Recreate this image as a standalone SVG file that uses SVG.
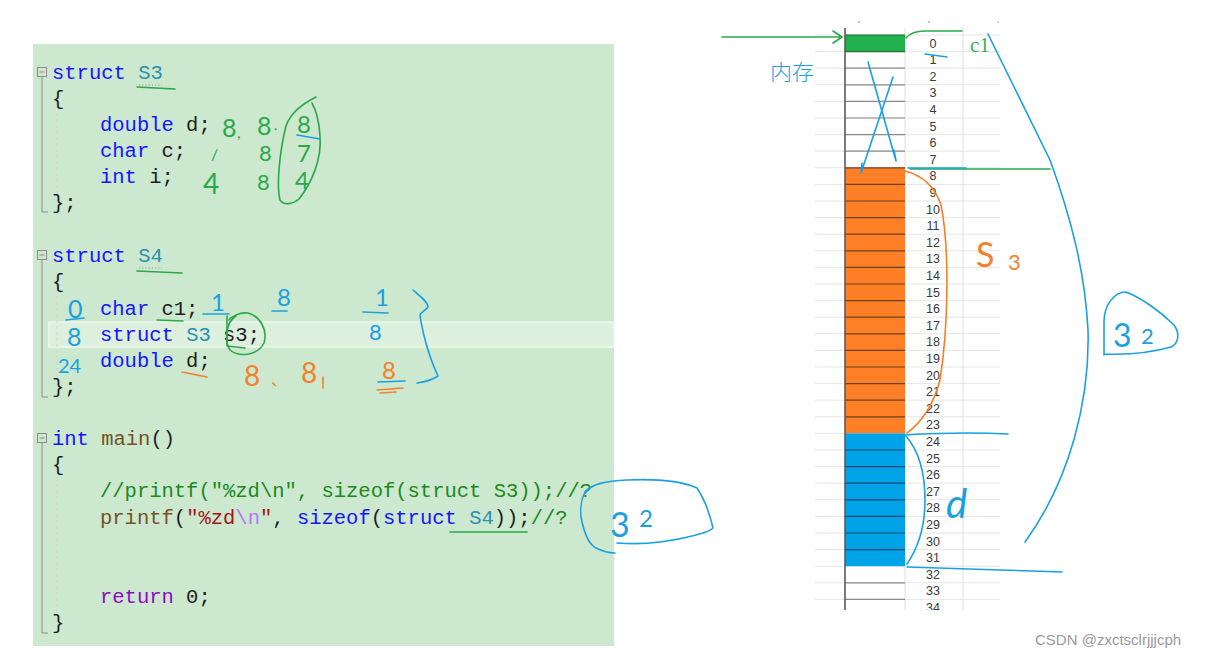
<svg xmlns="http://www.w3.org/2000/svg" width="1229" height="660" viewBox="0 0 1229 660">
<defs>
<style>
.code{font-family:"Liberation Mono","DejaVu Sans Mono",monospace;font-size:20.5px;fill:#1e1e1e}
.kw{fill:#1515ff}
.ty{fill:#2b91af}
.fn{fill:#74531f}
.str{fill:#a31515}
.esc{fill:#b776fb}
.cm{fill:#1b8a1b}
.ret{fill:#8f08c4}
.fold{fill:none;stroke:#8c8c8c;stroke-width:1}
.guide{stroke:#d9cdd3;stroke-width:1;stroke-dasharray:3,3}
.hw{fill:none;stroke-width:1.6;stroke-linecap:round;stroke-linejoin:round}
.g{stroke:#2aa84a}
.b{stroke:#1aa0e2}
.o{stroke:#f5802a}
.hg{fill:#2aa84a}
.hb{fill:#1aa0e2}
.ho{fill:#f5802a}
.hand{font-family:Lato,"Liberation Sans","DejaVu Sans",sans-serif;font-weight:400}
.num{font-family:"Liberation Sans",Arial,sans-serif;font-size:12.5px;fill:#3a3a3a;text-anchor:middle}
.grid{stroke:#e6e6e6;stroke-width:1}
</style>
<clipPath id="tbl"><rect x="800" y="20" width="220" height="590"/></clipPath>
</defs>
<rect width="1229" height="660" fill="#ffffff"/>

<g id="code-panel">
<rect x="33" y="44" width="581" height="602" fill="#cce8cf"/>
<rect x="49" y="322" width="565" height="25" fill="#ddefdd" stroke="#eef8ee" stroke-width="1.5"/>
<rect class="fold" x="37.5" y="67.5" width="9" height="9"/><path d="M39.5,72 H44.5" stroke="#8c8c8c"/>
<path class="fold" d="M42,77 V212 H48"/>
<rect class="fold" x="37.5" y="250.5" width="9" height="9"/><path d="M39.5,255 H44.5" stroke="#8c8c8c"/>
<path class="fold" d="M42,260 V397 H48"/>
<rect class="fold" x="37.5" y="433.5" width="9" height="9"/><path d="M39.5,438 H44.5" stroke="#8c8c8c"/>
<path class="fold" d="M42,443 V633 H48"/>
<path class="guide" d="M57,113 V197 M57,296 V380 M57,478 V615"/>
<path d="M139,85 H162 M139,268 H162" stroke="#9a9a9a" stroke-width="1.2" stroke-dasharray="1.2,2"/>
<text class="code" x="52" y="79"><tspan class="kw">struct</tspan> <tspan class="ty">S3</tspan></text>
<text class="code" x="52" y="105">{</text>
<text class="code" x="100" y="131"><tspan class="kw">double</tspan> d;</text>
<text class="code" x="100" y="157"><tspan class="kw">char</tspan> c;</text>
<text class="code" x="100" y="183"><tspan class="kw">int</tspan> i;</text>
<text class="code" x="52" y="209">};</text>
<text class="code" x="52" y="262"><tspan class="kw">struct</tspan> <tspan class="ty">S4</tspan></text>
<text class="code" x="52" y="288">{</text>
<text class="code" x="100" y="315"><tspan class="kw">char</tspan> c1;</text>
<text class="code" x="100" y="341"><tspan class="kw">struct</tspan> <tspan class="ty">S3</tspan> s3;</text>
<text class="code" x="100" y="367"><tspan class="kw">double</tspan> d;</text>
<text class="code" x="52" y="393">};</text>
<text class="code" x="52" y="445"><tspan class="kw">int</tspan> <tspan class="fn">main</tspan>()</text>
<text class="code" x="52" y="471">{</text>
<text class="code cm" x="100" y="497">//printf("%zd\n", sizeof(struct S3));//?</text>
<text class="code" x="100" y="524"><tspan class="fn">printf</tspan>(<tspan class="str">"%zd</tspan><tspan class="esc">\n</tspan><tspan class="str">"</tspan>, <tspan class="kw">sizeof</tspan>(<tspan class="kw">struct</tspan> <tspan class="ty">S4</tspan>));<tspan class="cm">//?</tspan></text>
<text class="code" x="100" y="603"><tspan class="ret">return</tspan> 0;</text>
<text class="code" x="52" y="629">}</text>
</g>

<g id="s3-notes">
<path class="hw g" d="M137,87 L175,89"/>
<text class="hand hg" x="222" y="137" font-size="25">8</text>
<text class="hand hg" x="237" y="138" font-size="16">,</text>
<text class="hand hg" x="257" y="135" font-size="25">8</text>
<text class="hand hg" x="274" y="130" font-size="14">.</text>
<text class="hand hg" x="297" y="133" font-size="24">8</text>
<path class="hw b" d="M297,135 L320,139"/>
<text class="hand hg" x="211" y="160" font-size="16">/</text>
<text class="hand hg" x="259" y="161" font-size="22">8</text>
<text class="hand hg" x="297" y="162" font-size="24">7</text>
<text class="hand hg" x="203" y="194" font-size="28">4</text>
<text class="hand hg" x="257" y="190" font-size="22">8</text>
<text class="hand hg" x="295" y="189" font-size="24">4</text>
<path class="hw g" d="M316,97 C302,104 290,114 286,126 C280,150 276,185 280,200 C284,206 293,204 299,199 C311,184 322,160 320,136 C319,120 316,110 312,103"/>
</g>

<g id="s4-notes">
<path class="hw g" d="M137,271 L182,273"/>
<text class="hand hb" x="68" y="318" font-size="25">0</text>
<path class="hw b" d="M66,320 L84,318"/>
<text class="hand hb" x="67" y="346" font-size="25">8</text>
<text class="hand hb" x="58" y="373" font-size="20">24</text>
<path class="hw g" d="M157,320 L183,321"/>
<text class="hand hb" x="211" y="311" font-size="24">1</text>
<path class="hw b" d="M203,314 L229,314"/>
<text class="hand hb" x="277" y="306" font-size="24">8</text>
<path class="hw b" d="M272,311 L287,311"/>
<path class="hw g" d="M236,316 C226,322 224,340 230,350 C240,358 258,355 264,343 C268,330 260,316 248,313 C240,312 232,316 229,320"/>
<path class="hw g" d="M227,316 L227,346 L245,348"/>
<text class="hand hb" x="375" y="306" font-size="24">1</text>
<path class="hw b" d="M363,312 L388,313"/>
<text class="hand hb" x="369" y="340" font-size="22">8</text>
<path class="hw b" d="M413,290 C420,296 428,302 428,307 C426,310 421,312 420,315 C422,330 428,355 438,376 C432,380 424,382 417,383"/>
<path class="hw o" d="M182,372 L207,377"/>
<text class="hand ho" x="244" y="386" font-size="28">8</text>
<text class="ho" x="271" y="385" font-size="16" font-family="Noto Sans CJK SC,sans-serif">、</text>
<text class="hand ho" x="301" y="383" font-size="28">8</text>
<path class="hw o" d="M323,377 L323,388"/>
<text class="hand ho" x="382" y="379" font-size="24">8</text>
<path class="hw b" d="M378,382 L405,381"/>
<path class="hw o" d="M377,390 L403,388 M380,393 L396,392"/>
</g>

<g id="main-notes">
<path class="hw g" d="M450,532 L527,532"/>
<path class="hw b" d="M585,492 C592,484 605,481 627,480 C650,479 677,479 697,488 C705,500 710,515 713,528 C710,531 706,532 703,533 C690,537 675,540 660,542 C645,544 630,544 617,543"/>
<path class="hw b" d="M585,492 C580,502 580,514 582,522 C585,535 590,545 596,548 C602,551 608,553 615,553"/>
<text class="hand hb" x="610" y="537" font-size="34">3</text>
<text class="hand hb" x="639" y="527" font-size="24">2</text>
</g>

<g id="memory-table">
<g clip-path="url(#tbl)">
<path class="grid" d="M815,35 H1000 M815,51.6 H1000 M815,68.2 H1000 M815,84.8 H1000 M815,101.4 H1000 M815,118 H1000 M815,134.6 H1000 M815,151.2 H1000 M815,167.8 H1000 M815,184.4 H1000 M815,201 H1000 M815,217.6 H1000 M815,234.2 H1000 M815,250.8 H1000 M815,267.4 H1000 M815,284 H1000 M815,300.6 H1000 M815,317.2 H1000 M815,333.8 H1000 M815,350.4 H1000 M815,367 H1000 M815,383.6 H1000 M815,400.2 H1000 M815,416.8 H1000 M815,433.4 H1000 M815,450 H1000 M815,466.6 H1000 M815,483.2 H1000 M815,499.8 H1000 M815,516.4 H1000 M815,533 H1000 M815,549.6 H1000 M815,566.2 H1000 M815,582.8 H1000 M815,599.4 H1000"/>
<path d="M905,28 V610 M963,28 V610" stroke="#dedede" stroke-width="1"/>
<rect x="845" y="35" width="60" height="16.6" fill="#22b14c"/>
<rect x="845" y="167.8" width="60" height="265.6" fill="#ff7f27"/>
<rect x="845" y="433.4" width="60" height="132.8" fill="#00a2e8"/>
<path d="M845,51.6 H905 M845,68.2 H905 M845,84.8 H905 M845,101.4 H905 M845,118 H905 M845,134.6 H905 M845,151.2 H905 M845,582.8 H905 M845,599.4 H905" stroke="#8a8a8a" stroke-width="1.2"/>
<path d="M845,35 H905 M845,51.6 H905" stroke="#1a6a30" stroke-width="1"/>
<path d="M845,167.8 H905 M845,184.4 H905 M845,201 H905 M845,217.6 H905 M845,234.2 H905 M845,250.8 H905 M845,267.4 H905 M845,284 H905 M845,300.6 H905 M845,317.2 H905 M845,333.8 H905 M845,350.4 H905 M845,367 H905 M845,383.6 H905 M845,400.2 H905 M845,416.8 H905" stroke="#6b4222" stroke-width="1.2"/>
<path d="M845,450 H905 M845,466.6 H905 M845,483.2 H905 M845,499.8 H905 M845,516.4 H905 M845,533 H905 M845,549.6 H905" stroke="#1c4a66" stroke-width="1.2"/>
<path d="M845,28 V610" stroke="#5a5a5a" stroke-width="1.6"/>
<text class="num" x="933" y="47.5">0</text>
<text class="num" x="933" y="64.1">1</text>
<text class="num" x="933" y="80.7">2</text>
<text class="num" x="933" y="97.3">3</text>
<text class="num" x="933" y="113.9">4</text>
<text class="num" x="933" y="130.5">5</text>
<text class="num" x="933" y="147.1">6</text>
<text class="num" x="933" y="163.7">7</text>
<text class="num" x="933" y="180.3">8</text>
<text class="num" x="933" y="196.9">9</text>
<text class="num" x="933" y="213.5">10</text>
<text class="num" x="933" y="230.1">11</text>
<text class="num" x="933" y="246.7">12</text>
<text class="num" x="933" y="263.3">13</text>
<text class="num" x="933" y="279.9">14</text>
<text class="num" x="933" y="296.5">15</text>
<text class="num" x="933" y="313.1">16</text>
<text class="num" x="933" y="329.7">17</text>
<text class="num" x="933" y="346.3">18</text>
<text class="num" x="933" y="362.9">19</text>
<text class="num" x="933" y="379.5">20</text>
<text class="num" x="933" y="396.1">21</text>
<text class="num" x="933" y="412.7">22</text>
<text class="num" x="933" y="429.3">23</text>
<text class="num" x="933" y="445.9">24</text>
<text class="num" x="933" y="462.5">25</text>
<text class="num" x="933" y="479.1">26</text>
<text class="num" x="933" y="495.7">27</text>
<text class="num" x="933" y="512.3">28</text>
<text class="num" x="933" y="528.9">29</text>
<text class="num" x="933" y="545.5">30</text>
<text class="num" x="933" y="562.1">31</text>
<text class="num" x="933" y="578.7">32</text>
<text class="num" x="933" y="595.3">33</text>
<text class="num" x="933" y="611.9">34</text>
</g>
<circle cx="859" cy="22" r="0.8" fill="#777"/>
<circle cx="929" cy="22" r="0.8" fill="#777"/>
<circle cx="998" cy="22" r="0.8" fill="#999"/>
</g>

<g id="memory-notes">
<path class="hw g" d="M722,37 L842,37 M833,31 L842,37 L833,43"/>
<text x="770" y="80" font-size="22" fill="#1aa0e2" font-family="Noto Sans CJK SC,sans-serif" font-weight="300">内存</text>
<path class="hw g" d="M906,38 C910,33 915,31 925,31 L962,31"/>
<text x="970" y="52" font-size="21" fill="#3aae50" font-family="Liberation Serif,serif">c1</text>
<path class="hw b" d="M925,54 L947,57"/>
<path class="hw b" d="M868,62 L896,161 M894,150 L896,161"/>
<path class="hw b" d="M893,77 L861,173 M861,173 L862,163"/>
<path class="hw g" d="M910,169 L1050,169"/>
<path class="hw b" d="M908,168 L966,168" stroke-width="2"/>
<path class="hw o" d="M905,171 C925,176 936,190 941,205 C950,250 948,330 940,380 C932,410 918,425 907,433"/>
<text class="hand ho" x="976" y="267" font-size="34">S</text>
<text class="hand ho" x="1008" y="270" font-size="22">3</text>
<path class="hw b" d="M905,435 C940,433 970,432 1008,434"/>
<path class="hw b" d="M906,436 C918,450 925,470 925,500 C925,525 920,545 907,564"/>
<text class="hand hb" x="946" y="518" font-size="40" font-style="italic">d</text>
<path class="hw b" d="M907,567 C960,569 1010,570 1062,572"/>
<path class="hw b" d="M988,34 L1050,160 C1070,215 1085,270 1088,330 C1090,400 1070,480 1025,542"/>
<path class="hw b" d="M1104,355 L1104,322 C1104,305 1114,292 1126,292 C1142,298 1162,313 1174,325 C1180,333 1179,343 1171,347 C1150,353 1130,355 1104,354"/>
<text class="hand hb" x="1113" y="347" font-size="32">3</text>
<text class="hand hb" x="1141" y="344" font-size="22">2</text>
</g>

<text x="1035" y="645" font-size="15" fill="#9a9a9a" font-family="Liberation Sans,Arial,sans-serif">CSDN @zxctsclrjjjcph</text>
</svg>
